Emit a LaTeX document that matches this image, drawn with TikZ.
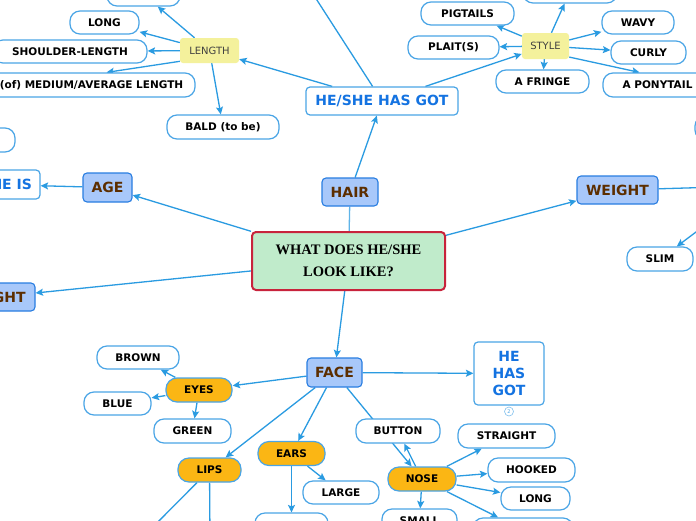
\documentclass[tikz,border=0pt]{standalone}
\usepackage{fontspec}
\setmainfont{DejaVu Sans}
\newfontfamily\titlefont{Liberation Serif}
\usetikzlibrary{arrows.meta}
\definecolor{conn}{RGB}{42,155,225}
\definecolor{leafb}{RGB}{74,165,230}
\definecolor{topicf}{RGB}{168,200,250}
\definecolor{topicb}{RGB}{40,125,225}
\definecolor{brownt}{RGB}{92,46,0}
\definecolor{bluet}{RGB}{20,115,225}
\definecolor{orangef}{RGB}{251,182,20}
\definecolor{yelf}{RGB}{244,241,156}
\definecolor{centf}{RGB}{192,235,203}
\definecolor{centb}{RGB}{200,35,60}
\pgfdeclarelayer{bg}\pgfdeclarelayer{paper}\pgfsetlayers{paper,bg,main}
\tikzset{
 leaf/.style={draw=leafb, fill=white, line width=1.2pt, rounded corners=10pt, inner sep=0pt, minimum height=23pt, font=\fontsize{10.5}{12}\selectfont\bfseries, text=black},
 topic/.style={draw=topicb, fill=topicf, line width=1.1pt, rounded corners=4pt, inner sep=0pt, minimum height=28pt, font=\fontsize{14}{16}\selectfont\bfseries, text=brownt},
 subt/.style={fill=yelf, rounded corners=3pt, inner sep=0pt, minimum height=25pt, font=\fontsize{10}{12}\selectfont, text=black!75},
 pill/.style={draw=leafb, fill=orangef, line width=1.2pt, rounded corners=11pt, inner sep=0pt, minimum height=24pt, font=\fontsize{10.5}{12}\selectfont\bfseries, text=black},
 bluebox/.style={draw=leafb, fill=white, line width=1.2pt, rounded corners=4pt, inner sep=0pt, font=\fontsize{14}{17}\selectfont\bfseries, text=bluet},
 arr/.style={draw=conn, line width=1.3pt, -{Stealth[length=7.5pt,width=7pt,inset=1.5pt]}},
 plain/.style={draw=conn, line width=1.3pt},
}
\begin{document}
\begin{tikzpicture}[x=1pt,y=-1pt]
\useasboundingbox (0,0) rectangle (696,520);
\clip (0,0) rectangle (696,520);
\begin{pgfonlayer}{paper}
\fill[white] (0,0) rectangle (696,520);
\end{pgfonlayer}
% centre
\node[draw=centb, fill=centf, line width=2pt, rounded corners=4pt, minimum width=193pt, minimum height=58pt, inner sep=0pt, align=center, font=\titlefont\fontsize{14.5}{22}\selectfont\bfseries] (ctr) at (348.5,261) {WHAT DOES HE/SHE\\LOOK LIKE?};
% topics
\node[topic, minimum width=56pt] (hair) at (350,192) {HAIR};
\node[topic, minimum width=49pt, minimum height=29pt] (age) at (107.5,187.5) {AGE};
\node[topic, minimum width=81pt] (weight) at (617.5,190) {WEIGHT};
\node[topic, minimum width=78pt] (height) at (-4,297) {HEIGHT};
\node[topic, minimum width=55pt, minimum height=29pt] (face) at (334.5,372.5) {FACE};
% blue boxes
\node[bluebox, minimum width=152pt, minimum height=28pt] (hasgot) at (382,101) {HE/SHE HAS GOT};
\node[bluebox, minimum width=94pt, minimum height=29pt] (heis) at (-7,184.5) {HE/SHE IS};
\node[bluebox, minimum width=70pt, minimum height=63pt, align=center] (hehas) at (509,373.5) {HE\\HAS\\GOT};
\node[circle, draw=leafb!70, line width=0.6pt, minimum size=9pt, inner sep=0pt, font=\fontsize{5}{5}\selectfont, text=leafb] (badge) at (509,411.5) {2};
% sub topics
\node[subt, minimum width=59pt] (len) at (209.5,50.5) {LENGTH};
\node[subt, minimum width=47pt, minimum height=26pt] (sty) at (545.5,46) {STYLE};
% length leaves
\node[leaf, minimum width=73pt] (ltop) at (143.5,-5.5) {};
\node[leaf, minimum width=69pt] (long) at (104.5,22.5) {LONG};
\node[leaf, minimum width=154pt] (shoulder) at (70,51.5) {SHOULDER-LENGTH};
\node[leaf, minimum width=207pt, minimum height=24pt] (medium) at (91.5,85) {(of) MEDIUM/AVERAGE LENGTH};
\node[leaf, minimum width=112pt, minimum height=24pt] (bald) at (223,127) {BALD (to be)};
\node[leaf, minimum width=90pt, minimum height=24pt] (lpart) at (-30,140) {};
% style leaves
\node[leaf, minimum width=94pt] (stop) at (570,-8.5) {};
\node[leaf, minimum width=93pt] (pig) at (467.5,13.5) {PIGTAILS};
\node[leaf, minimum width=91pt] (plait) at (453.5,47.5) {PLAIT(S)};
\node[leaf, minimum width=72pt] (wavy) at (638,22.5) {WAVY};
\node[leaf, minimum width=75pt] (curly) at (648.5,52.5) {CURLY};
\node[leaf, minimum width=93pt] (fringe) at (542.5,81.5) {A FRINGE};
\node[leaf, minimum width=109pt, minimum height=24pt] (pony) at (657.5,85) {A PONYTAIL};
% right side
\node[leaf, minimum width=100pt, minimum height=24pt] (rpart) at (745,128) {};
\node[leaf, minimum width=66pt, minimum height=24pt] (slim) at (660,259) {SLIM};
\coordinate (wout) at (720,187);
\coordinate (slimsrc) at (720,214);
\coordinate (hgout) at (304,-20);
% face leaves
\node[pill, minimum width=66pt] (eyes) at (199,390) {EYES};
\node[leaf, minimum width=82pt] (brown) at (138,357.5) {BROWN};
\node[leaf, minimum width=67pt] (blue) at (117.5,403.5) {BLUE};
\node[leaf, minimum width=77pt, minimum height=24pt] (green) at (192.5,431) {GREEN};
\node[pill, minimum width=63pt] (lips) at (209.5,470) {LIPS};
\node[pill, minimum width=67pt] (ears) at (291.5,453.5) {EARS};
\node[leaf, minimum width=76pt] (large) at (341,492.5) {LARGE};
\node[leaf, minimum width=73pt, minimum height=24pt] (earsb) at (291.5,525) {};
\node[pill, minimum width=68pt] (nose) at (422,479) {NOSE};
\node[leaf, minimum width=84pt, minimum height=24pt] (button) at (398,431) {BUTTON};
\node[leaf, minimum width=97pt, minimum height=24pt] (straight) at (506.5,436) {STRAIGHT};
\node[leaf, minimum width=87pt, minimum height=24pt] (hooked) at (531.5,470) {HOOKED};
\node[leaf, minimum width=69pt] (nlong) at (535.5,498.5) {LONG};
\node[leaf, minimum width=75pt, minimum height=24pt] (small) at (419.5,521) {SMALL};
\node[leaf, minimum width=100pt, minimum height=24pt] (nbr) at (523,530) {};
\coordinate (lipsa) at (140,540);
\coordinate (lipsb) at (210,540);
\begin{pgfonlayer}{bg}
\draw[plain, draw=conn!75] (hair) -- (ctr);
\draw[arr] (hair) -- (hasgot);
\draw[arr] (hasgot) -- (hgout);
\draw[arr] (hasgot) -- (len);
\draw[arr] (hasgot) -- (sty);
\draw[arr] (len) -- (ltop);
\draw[arr] (len) -- (long);
\draw[arr] (len) -- (shoulder);
\draw[arr] (len.200) -- (medium.40);
\draw[arr] (len) -- (bald);
\draw[arr] (sty) -- (stop);
\draw[arr] (sty) -- (pig);
\draw[arr] (sty) -- (plait);
\draw[arr] (sty) -- (fringe);
\draw[arr] (sty) -- (wavy);
\draw[arr] (sty) -- (curly);
\draw[arr] (sty.335) -- (pony.145);
\draw[arr] (ctr) -- (age);
\draw[arr] (age) -- (heis);
\draw[arr] (ctr) -- (height);
\draw[arr] (ctr) -- (weight);
\draw[plain] (weight) -- (wout);
\draw[arr] (slimsrc) -- (slim);
\draw[arr] (ctr) -- (face);
\draw[arr] (face) -- (hehas);
\draw[arr] (face) -- (eyes);
\draw[arr] (eyes) -- (brown);
\draw[arr] (eyes) -- (blue);
\draw[arr] (eyes) -- (green);
\draw[arr] (face) -- (lips);
\draw[arr] (face) -- (ears);
\draw[arr] (ears) -- (large);
\draw[arr] (ears) -- (earsb);
\draw[plain] (lips) -- (lipsa);
\draw[plain] (lips) -- (lipsb);
\draw[arr] (face) -- (nose);
\draw[arr] (nose) -- (button);
\draw[arr] (nose) -- (straight);
\draw[arr] (nose) -- (hooked);
\draw[arr] (nose) -- (nlong);
\draw[arr] (nose) -- (small);
\draw[arr] (nose) -- (nbr);
\end{pgfonlayer}
\end{tikzpicture}
\end{document}
